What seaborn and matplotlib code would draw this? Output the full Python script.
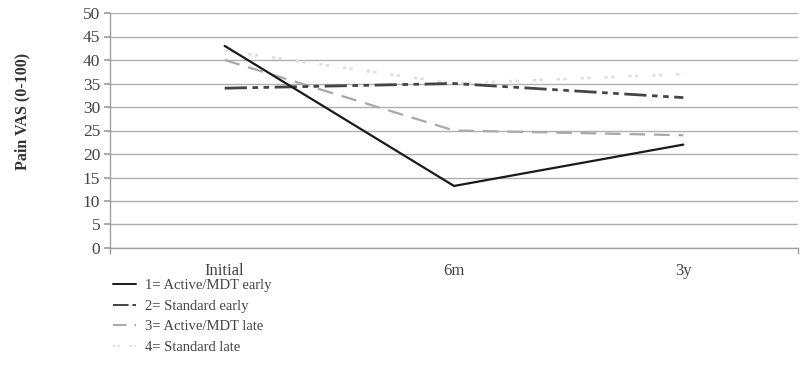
import matplotlib
matplotlib.use("Agg")
import matplotlib.pyplot as plt
import numpy as np
import pandas as pd
import seaborn as sns
from matplotlib.lines import Line2D

# ── Data ─────────────────────────────────────────────────────────────────────
timepoints = ["Initial", "6m", "3y"]
groups = ["1= Active/MDT early", "2= Standard early",
          "3= Active/MDT late", "4= Standard late"]
active_early = [43, 13.2, 22]
standard_early = [34, 35, 32]
active_late = [40, 25, 24]
standard_late = [42, 35, 37]

df = pd.DataFrame({
    "time": timepoints * 4,
    "group": np.repeat(groups, len(timepoints)),
    "vas": active_early + standard_early + active_late + standard_late,
})

# ── Style ────────────────────────────────────────────────────────────────────
sns.set_theme(style="white")
plt.rcParams["font.family"] = ["Liberation Serif", "DejaVu Serif"]

STYLES = {
    groups[0]: dict(color="#1a1a1a", ls="-", lw=1.6),
    groups[1]: dict(color="#444444", ls=(0, (8, 2, 2, 2, 2, 2)), lw=2.0),
    groups[2]: dict(color="#a8a8a8", ls=(0, (7, 4)), lw=1.6),
    groups[3]: dict(color="#e0e0e0", ls=(0, (1.2, 1.2, 1.2, 5)), lw=2.0),
}

fig = plt.figure(figsize=(8.04, 3.88), dpi=100)
ax = fig.add_axes([110 / 804, 1 - 248 / 388, 688 / 804, 235 / 388])

order = [groups[3], groups[2], groups[1], groups[0]]
for g in order:
    sub = df[df["group"] == g]
    st = STYLES[g]
    sns.lineplot(data=sub, x="time", y="vas", ax=ax, sort=False,
                 color=st["color"], linestyle=st["ls"], linewidth=st["lw"],
                 legend=False)

ax.set_xlim(-0.5, 2.5)
ax.set_ylim(0, 50)
ax.set_yticks(range(0, 51, 5))
ax.yaxis.grid(True, color="#b0b0b0", linewidth=1.0)
ax.xaxis.grid(False)
for side in ["top", "right"]:
    ax.spines[side].set_visible(False)
for side in ["left", "bottom"]:
    ax.spines[side].set_color("#a0a0a0")
    ax.spines[side].set_linewidth(1.0)
ax.tick_params(axis="y", which="major", left=True, length=4, color="#a0a0a0",
               labelsize=12.5, labelcolor="#444444", pad=3)
ax.tick_params(axis="x", which="major", bottom=False, labelsize=12,
               labelcolor="#444444", pad=5)
ax.set_xticks([-0.5, 2.5], minor=True)
ax.tick_params(axis="x", which="minor", bottom=True, length=4, color="#a0a0a0")
ax.set_xlabel("")
ax.set_ylabel("Pain VAS (0-100)", fontsize=11.5, color="#333333",
              fontweight="bold")
ax.yaxis.set_label_coords(-0.115, 0.58)

handles = [Line2D([], [], color=STYLES[g]["color"], linestyle=STYLES[g]["ls"],
                  linewidth=1.4) for g in groups]
leg = fig.legend(handles, groups, loc="upper left",
                 bbox_to_anchor=(100 / 804, 1 - 266 / 388), frameon=False,
                 fontsize=10.5, handlelength=1.6, handletextpad=0.6,
                 labelspacing=0.5, labelcolor="#444444")

fig.savefig("out.png", dpi=100)
